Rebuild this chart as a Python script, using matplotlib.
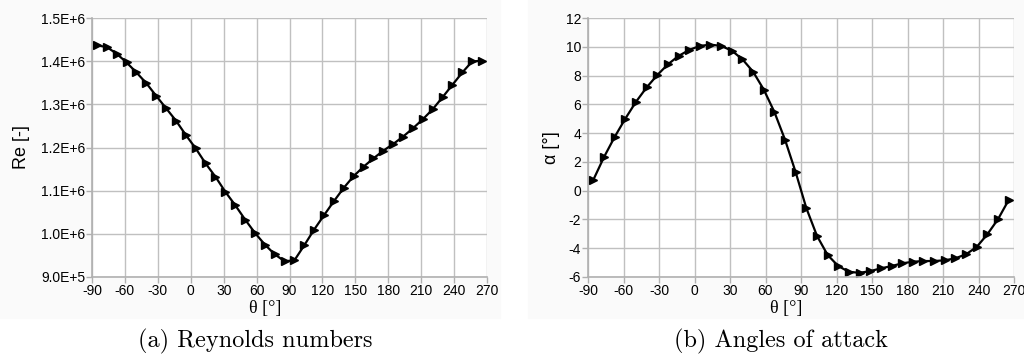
import matplotlib.pyplot as plt
import numpy as np
from matplotlib.patches import Rectangle

plt.rcParams['font.family'] = ['Liberation Sans', 'DejaVu Sans']
plt.rcParams['axes.unicode_minus'] = False

# azimuthal positions of the blade (deg)
theta = -85.5 + 9 * np.arange(40)

# Reynolds numbers along the revolution
reynolds = np.array([1.4365, 1.4327, 1.4172, 1.397, 1.3738, 1.349, 1.3196, 1.291,
                     1.2623, 1.229, 1.198, 1.1632, 1.1323, 1.0974, 1.0665, 1.0332,
                     1.0022, 0.9751, 0.9527, 0.9364, 0.9387, 0.9736, 1.0100, 1.0432,
                     1.0757, 1.1067, 1.1338, 1.1555, 1.1748, 1.1926, 1.2081, 1.2252,
                     1.2445, 1.2654, 1.2886, 1.3165, 1.3452, 1.3738, 1.3994, 1.401]) * 1e6

# angles of attack (deg)
alpha = [0.75, 2.33, 3.73, 5.0, 6.17, 7.17, 8.03, 8.78, 9.36, 9.78,
         10.06, 10.15, 10.06, 9.73, 9.13, 8.27, 7.03, 5.47, 3.54, 1.28,
         -1.21, -3.14, -4.47, -5.24, -5.64, -5.71, -5.59, -5.40, -5.24, -5.05,
         -4.94, -4.89, -4.89, -4.84, -4.70, -4.42, -3.91, -3.03, -1.98, -0.65]

xticks = np.arange(-90, 271, 30)

fig = plt.figure(figsize=(10.24, 3.61), dpi=100)

# light backgrounds of the two panels
fig.patches.append(Rectangle((0, 1 - 318 / 361), 500 / 1024, 318 / 361,
                             transform=fig.transFigure, color='#fafafa', zorder=-10))
fig.patches.append(Rectangle((528 / 1024, 1 - 318 / 361), 496 / 1024, 318 / 361,
                             transform=fig.transFigure, color='#fafafa', zorder=-10))

ax1 = fig.add_axes([92 / 1024, 1 - 277 / 361, 395 / 1024, 259 / 361])
ax2 = fig.add_axes([588 / 1024, 1 - 277 / 361, 426 / 1024, 259 / 361])


def style(ax):
    ax.set_facecolor('white')
    ax.set_xlim(-90, 270)
    ax.set_xticks(xticks)
    ax.grid(True, color='#c0c0c0', linewidth=1.0)
    ax.set_axisbelow(True)
    for s in ['top', 'right']:
        ax.spines[s].set_visible(False)
    for s in ['left', 'bottom']:
        ax.spines[s].set_color('#b0b0b0')
        ax.spines[s].set_linewidth(1.2)
    ax.tick_params(colors='#b0b0b0', labelcolor='black', labelsize=10,
                   length=4, width=1.0, pad=1)


style(ax1)
ax1.plot(theta, reynolds, color='black', linewidth=1.6, marker='>',
         markersize=6, clip_on=False)
ax1.set_ylim(9.0e5, 1.5e6)
ax1.set_yticks(np.arange(9.0e5, 1.51e6, 1e5))
ax1.set_yticklabels(['9.0E+5', '1.0E+6', '1.1E+6', '1.2E+6', '1.3E+6', '1.4E+6', '1.5E+6'])
ax1.set_ylabel('Re [-]', fontsize=13, labelpad=8)

style(ax2)
ax2.plot(theta, alpha, color='black', linewidth=1.6, marker='>',
         markersize=6, clip_on=False)
ax2.set_ylim(-6, 12)
ax2.set_yticks(np.arange(-6, 13, 2))
ax2.set_ylabel('α [°]', fontsize=13, labelpad=4)

# axis titles and captions
fig.text(265 / 1024, 1 - 309 / 361, 'θ [°]', fontsize=13, family='Liberation Serif',
         ha='center', va='center')
fig.text(786 / 1024, 1 - 309 / 361, 'θ [°]', fontsize=13, family='Liberation Serif',
         ha='center', va='center')
fig.text(255 / 1024, 1 - 341 / 361, '(a) Reynolds numbers', fontsize=17.5,
         family=['cmr10', 'DejaVu Serif'], ha='center', va='center')
fig.text(781 / 1024, 1 - 341 / 361, '(b) Angles of attack', fontsize=17.5,
         family=['cmr10', 'DejaVu Serif'], ha='center', va='center')

fig.savefig('out.png', dpi=100)
